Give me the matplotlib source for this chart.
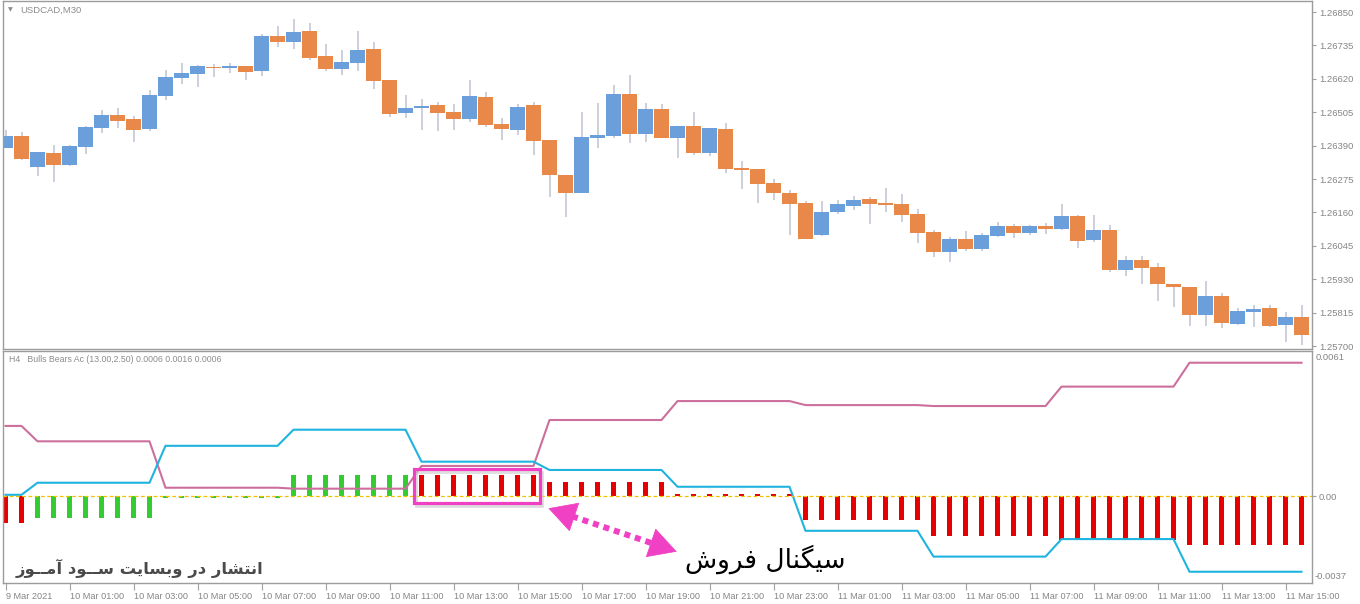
import numpy as np
import matplotlib
matplotlib.use("Agg")
import matplotlib.pyplot as plt
from matplotlib.patches import Rectangle

plt.rcParams['font.family'] = ['Liberation Sans', 'DejaVu Sans']

# ---------------- data ----------------
opens = [1.26383, 1.26423, 1.26317, 1.26365, 1.26323, 1.26386, 1.26452, 1.26495, 1.26482, 1.26448,
         1.26562, 1.26624, 1.26638, 1.26661, 1.26657, 1.26664, 1.26648, 1.26767, 1.26747, 1.26785,
         1.26699, 1.26654, 1.26675, 1.26723, 1.26616, 1.26503, 1.26519, 1.26530, 1.26506, 1.26483,
         1.26557, 1.26464, 1.26444, 1.26530, 1.26409, 1.26289, 1.26227, 1.26417, 1.26423, 1.26568,
         1.26430, 1.26516, 1.26416, 1.26458, 1.26364, 1.26447, 1.26313, 1.26309, 1.26261, 1.26227,
         1.26192, 1.26082, 1.26161, 1.26182, 1.26206, 1.26190, 1.26189, 1.26155, 1.26093, 1.26024,
         1.26068, 1.26034, 1.26079, 1.26113, 1.26089, 1.26113, 1.26103, 1.26148, 1.26065, 1.26099,
         1.25962, 1.25996, 1.25972, 1.25914, 1.25903, 1.25807, 1.25872, 1.25776, 1.25817, 1.25831,
         1.25772, 1.25800]
highs = [1.26444, 1.26437, 1.26368, 1.26392, 1.26392, 1.26458, 1.26514, 1.26519, 1.26492, 1.26581,
         1.26650, 1.26675, 1.26668, 1.26671, 1.26675, 1.26664, 1.26775, 1.26803, 1.26826, 1.26812,
         1.26740, 1.26719, 1.26785, 1.26747, 1.26616, 1.26564, 1.26550, 1.26540, 1.26533, 1.26616,
         1.26575, 1.26485, 1.26533, 1.26540, 1.26409, 1.26289, 1.26506, 1.26537, 1.26599, 1.26633,
         1.26537, 1.26533, 1.26458, 1.26506, 1.26451, 1.26468, 1.26337, 1.26309, 1.26275, 1.26237,
         1.26199, 1.26199, 1.26203, 1.26215, 1.26213, 1.26244, 1.26223, 1.26172, 1.26099, 1.26075,
         1.26096, 1.26089, 1.26127, 1.26120, 1.26117, 1.26124, 1.26189, 1.26151, 1.26151, 1.26117,
         1.26010, 1.26010, 1.25986, 1.25914, 1.25903, 1.25924, 1.25883, 1.25831, 1.25841, 1.25841,
         1.25817, 1.25841]
lows = [1.26382, 1.26342, 1.26286, 1.26266, 1.26320, 1.26361, 1.26434, 1.26452, 1.26403, 1.26441,
        1.26547, 1.26603, 1.26593, 1.26627, 1.26641, 1.26616, 1.26631, 1.26731, 1.26723, 1.26685,
        1.26648, 1.26633, 1.26648, 1.26586, 1.26490, 1.26484, 1.26444, 1.26440, 1.26444, 1.26471,
        1.26455, 1.26409, 1.26427, 1.26358, 1.26214, 1.26145, 1.26227, 1.26383, 1.26416, 1.26400,
        1.26402, 1.26416, 1.26347, 1.26358, 1.26355, 1.26296, 1.26241, 1.26192, 1.26203, 1.26082,
        1.26068, 1.26079, 1.26155, 1.26168, 1.26120, 1.26161, 1.26127, 1.26055, 1.26006, 1.25989,
        1.26027, 1.26027, 1.26075, 1.26072, 1.26082, 1.26086, 1.26099, 1.26037, 1.26058, 1.25955,
        1.25941, 1.25914, 1.25855, 1.25834, 1.25769, 1.25769, 1.25762, 1.25772, 1.25765, 1.25765,
        1.25714, 1.25703]
closes = [1.26423, 1.26344, 1.26368, 1.26323, 1.26390, 1.26454, 1.26495, 1.26475, 1.26445, 1.26564,
          1.26626, 1.26640, 1.26664, 1.26657, 1.26664, 1.26644, 1.26767, 1.26747, 1.26781, 1.26693,
          1.26654, 1.26678, 1.26719, 1.26613, 1.26499, 1.26519, 1.26526, 1.26502, 1.26482, 1.26561,
          1.26461, 1.26447, 1.26523, 1.26406, 1.26289, 1.26227, 1.26420, 1.26427, 1.26568, 1.26430,
          1.26516, 1.26416, 1.26458, 1.26364, 1.26451, 1.26309, 1.26306, 1.26258, 1.26227, 1.26189,
          1.26068, 1.26161, 1.26189, 1.26203, 1.26189, 1.26187, 1.26151, 1.26089, 1.26024, 1.26068,
          1.26034, 1.26082, 1.26113, 1.26089, 1.26113, 1.26103, 1.26148, 1.26062, 1.26099, 1.25962,
          1.25996, 1.25969, 1.25914, 1.25903, 1.25807, 1.25872, 1.25779, 1.25821, 1.25827, 1.25769,
          1.25800, 1.25738]

price_ticks = [1.26850, 1.26735, 1.26620, 1.26505, 1.26390, 1.26275, 1.26160, 1.26045, 1.25930, 1.25815, 1.25700]

# H4 indicator values (each H4 bar spans several M30 candles)
h4_bar_sizes = [2, 8, 8, 8, 8, 8, 8, 8, 8, 8, 8]
hist_values = [-0.00113, -0.00092, -0.00009, 0.00089, 0.00089, 0.00059, 0.00008,
               -0.00101, -0.00169, -0.00186, -0.00207]
hist_colors = ['red', 'green', 'green', 'green', 'red', 'red', 'red', 'red', 'red', 'red', 'red']
upper_line = [0.00296, 0.00231, 0.00035, 0.00031, 0.00127, 0.00321, 0.00401,
              0.00384, 0.00380, 0.00462, 0.00563]
lower_line = [0.00005, 0.00056, 0.00212, 0.00280, 0.00145, 0.00110, 0.00039,
              -0.00147, -0.00256, -0.00182, -0.00320]

time_labels = ["9 Mar 2021", "10 Mar 01:00", "10 Mar 03:00", "10 Mar 05:00", "10 Mar 07:00",
               "10 Mar 09:00", "10 Mar 11:00", "10 Mar 13:00", "10 Mar 15:00", "10 Mar 17:00",
               "10 Mar 19:00", "10 Mar 21:00", "10 Mar 23:00", "11 Mar 01:00", "11 Mar 03:00",
               "11 Mar 05:00", "11 Mar 07:00", "11 Mar 09:00", "11 Mar 11:00", "11 Mar 13:00",
               "11 Mar 15:00"]

# ---------------- style ----------------
C_UP = '#6a9fdc'
C_DN = '#e8894a'
C_WICK = '#c4c6d3'
C_RED = '#e60000'
C_GREEN = '#33cc33'
C_PINK = '#cc6f9c'
C_CYAN = '#1fb4e0'
C_MAG = '#f040c4'
C_SPINE = '#9c9c9c'
C_LABEL = '#858585'

W, H = 1360, 604
fig = plt.figure(figsize=(W / 100, H / 100), dpi=100)
fig.patch.set_facecolor('white')

def fx(px):
    return px / W

def fy(py):
    return 1 - py / H

ax1 = fig.add_axes([fx(3), fy(349), fx(1312) - fx(3), fy(1) - fy(349)])
ax2 = fig.add_axes([fx(3), fy(583), fx(1312) - fx(3), fy(351) - fy(583)])

n = len(opens)
x = np.arange(n)
o = np.array(opens); h = np.array(highs); l = np.array(lows); c = np.array(closes)
up = c >= o

# ---------------- candles ----------------
ax1.vlines(x, l, h, color=C_WICK, lw=1.2, zorder=1)
body_bottom = np.minimum(o, c)
body_h = np.maximum(np.abs(c - o), 0.00005)
ax1.bar(x, body_h, bottom=body_bottom, width=0.94,
        color=[C_UP if u else C_DN for u in up], edgecolor='none', zorder=2)

xlim = (-(5.5 - 3) / 16, (1312 - 5.5) / 16)
ax1.set_xlim(*xlim)
ax1.set_ylim(1.256897, 1.268879)
ax1.yaxis.tick_right()
ax1.set_yticks(price_ticks)
ax1.set_yticklabels([f"{v:.5f}" for v in price_ticks])
ax1.tick_params(axis='y', length=3, width=0.8, pad=2, color='#a0a0a0',
                labelcolor=C_LABEL, labelsize=6.8)
ax1.set_xticks([])

# ---------------- indicator ----------------
hist_per_bar = np.repeat(hist_values, h4_bar_sizes)
col_per_bar = np.repeat(hist_colors, h4_bar_sizes)
cmap = {'red': C_RED, 'green': C_GREEN}
hist_h = np.where(np.abs(hist_per_bar) < 0.00005, np.sign(hist_per_bar) * 0.00005, hist_per_bar)
ax2.bar(x, hist_h, width=0.28, color=[cmap[cc] for cc in col_per_bar], edgecolor='none', zorder=2)
ax2.plot(x, np.repeat(upper_line, h4_bar_sizes), color=C_PINK, lw=1.5, zorder=3)
ax2.plot(x, np.repeat(lower_line, h4_bar_sizes), color=C_CYAN, lw=1.5, zorder=3)
ax2.axhline(0, color='#f2c200', lw=0.9, dashes=(3, 2), zorder=4)

ax2.set_xlim(*xlim)
ax2.set_ylim(-0.003675, 0.006125)
ax2.yaxis.tick_right()
ax2.set_yticks([0.0])
ax2.set_yticklabels(['0.00'])
ax2.tick_params(axis='y', length=3, width=0.8, pad=1.5, color='#a0a0a0',
                labelcolor=C_LABEL, labelsize=6.8)
ax2.set_xticks(np.arange(0, 81, 4))
ax2.set_xticklabels(time_labels)
ax2.tick_params(axis='x', length=5, width=0.8, pad=1.5, color='#a0a0a0',
                labelcolor=C_LABEL, labelsize=6.6)
for t in ax2.get_xticklabels():
    t.set_horizontalalignment('left')

fig.text(fx(1316), fy(358), "0.0061", color=C_LABEL, fontsize=6.8, va='center', ha='left')
fig.text(fx(1315), fy(576.5), "-0.0037", color=C_LABEL, fontsize=6.8, va='center', ha='left')

for ax in (ax1, ax2):
    for s in ax.spines.values():
        s.set_color(C_SPINE)
        s.set_linewidth(1.0)

# titles
fig.text(fx(8), fy(10), "\u25BC", color='#8a8a8a', fontsize=4.5, va='center', ha='left',
         family=['DejaVu Sans'])
fig.text(fx(20.5), fy(10), "USDCAD,M30", color='#8c8c8c', fontsize=6.8, va='center', ha='left')
fig.text(fx(9), fy(360), "H4   Bulls Bears Ac (13.00,2.50) 0.0006 0.0016 0.0006",
         color='#8c8c8c', fontsize=6.3, va='center', ha='left')

# ---------------- annotations ----------------
# signal box around the sell-signal bars
box_x0, box_x1 = 25.53, 33.41
box_y0, box_y1 = -0.000283, 0.00114
ax2.add_patch(Rectangle((box_x0 + 0.12, box_y0 - 0.00012), box_x1 - box_x0, box_y1 - box_y0,
                        fill=False, edgecolor='#cfcfcf', lw=2.0, zorder=4, alpha=0.7))
ax2.add_patch(Rectangle((box_x0, box_y0), box_x1 - box_x0, box_y1 - box_y0,
                        fill=False, edgecolor=C_MAG, lw=2.3, zorder=5))

# dotted double arrow
left_tip = (33.93, -0.00052)
left_base = (35.41, -0.000857)
right_tip = (41.95, -0.00235)
right_base = (40.47, -0.00201)
ax2.plot([left_base[0], right_base[0]], [left_base[1], right_base[1]], color=C_MAG,
         lw=4.3, dashes=(1.0, 0.85), solid_capstyle='butt', dash_capstyle='butt', zorder=6)
for tip, base in ((left_tip, left_base), (right_tip, right_base)):
    ax2.annotate('', xy=tip, xytext=base,
                 arrowprops=dict(arrowstyle='-|>,head_length=1.0,head_width=0.55',
                                 mutation_scale=19, color=C_MAG, lw=0.5,
                                 shrinkA=0, shrinkB=0), zorder=6)

# Persian texts (presentation forms in visual order)
sell_text = "\uFEB5\uFEED\uFEAE\uFED3 \uFEDD\uFE8E\uFEE8\uFB95\uFBFF\uFEB3"
site_text = ("\uFEAF\uFEEE\u0640\u0640\uFEE3\uFE81 \uFEA9\uFEEE\u0640\u0640\uFEB3 "
             "\uFE96\uFBFE\uFE8E\uFEB4\uFE91\uFEED \uFEAD\uFEA9 "
             "\uFEAD\uFE8E\uFEB8\uFE98\uFEE7\uFE8D")
fig.text(fx(765), fy(559), sell_text, color='black', fontsize=19, va='center', ha='center',
         family=['DejaVu Sans'])
fig.text(fx(16), fy(568), site_text, color='#4a4a4a', fontsize=11.8, fontweight='bold',
         va='center', ha='left', family=['DejaVu Sans'])

fig.savefig('out.png', dpi=100, facecolor='white')
